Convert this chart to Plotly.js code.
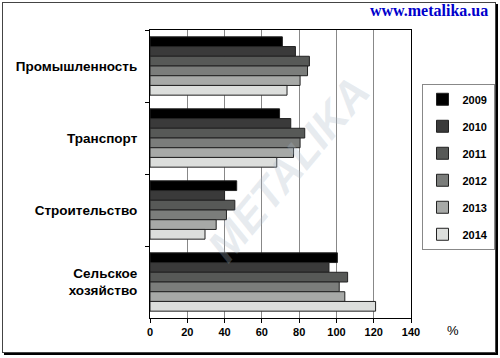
<!DOCTYPE html>
<html>
<head>
<meta charset="utf-8">
<script src="https://cdn.plot.ly/plotly-3.0.1.min.js"></script>
<style>
html,body{margin:0;padding:0;background:#fff;}
#wrap{position:relative;width:500px;height:358px;overflow:hidden;}
#frame{position:absolute;left:2px;top:2px;width:492px;height:349px;border:1px solid #444;box-shadow:2px 2px 0 #000;}
#chart{position:absolute;left:0;top:0;width:500px;height:358px;}
</style>
</head>
<body>
<div id="wrap"><div id="frame"></div><div id="chart"></div></div>
<script>
const categories = ["Промышленность", "Транспорт", "Строительство", "Сельское<br>хозяйство"];
const years = ["2009", "2010", "2011", "2012", "2013", "2014"];
const v2009 = [71, 69.5, 46.5, 100.5];
const v2010 = [78, 75.5, 40, 96];
const v2011 = [85.5, 83, 45.5, 106];
const v2012 = [84.5, 80.5, 41, 101.5];
const v2013 = [80.5, 77, 35.5, 104.5];
const v2014 = [73.5, 68, 29.5, 121];
const xTicks = [0, 20, 40, 60, 80, 100, 120, 140];

const series = [v2009, v2010, v2011, v2012, v2013, v2014];
const colors = ["#000000", "#3a3a3a", "#575957", "#7b7d7b", "#a7a9a7", "#dcdedc"];

const traces = series.map((vals, i) => ({
  type: "bar",
  orientation: "h",
  name: years[i],
  y: categories,
  x: vals,
  legendgroup: years[i],
  marker: {color: colors[i], line: {color: "#222", width: 1}},
  hoverinfo: "x+name"
}));

const layout = {
  width: 500, height: 358,
  margin: {l: 150, r: 89, t: 30, b: 40, pad: 0, autoexpand: false},
  paper_bgcolor: "rgba(0,0,0,0)",
  plot_bgcolor: "#fff",
  barmode: "group",
  bargap: 0.19,
  bargroupgap: 0,
  font: {family: "Liberation Sans, Arial, sans-serif", color: "#000"},
  showlegend: true,
  legend: {
    x: 0.843, xref: "container", y: 0.766, yref: "container", xanchor: "left", yanchor: "top",
    traceorder: "grouped",
    tracegroupgap: 8,
    itemwidth: 30,
    bordercolor: "#888", borderwidth: 1, bgcolor: "#fff",
    font: {size: 11, family: "Liberation Sans, Arial, sans-serif", weight: "bold"}
  },
  xaxis: {
    range: [0, 140],
    tickvals: xTicks,
    ticktext: xTicks.map(String),
    showgrid: true, gridcolor: "#888", gridwidth: 1,
    zeroline: false,
    showline: true, linecolor: "#000", linewidth: 1, mirror: true,
    ticks: "outside", ticklen: 4, tickcolor: "#000",
    tickfont: {size: 11, weight: "bold"},
    fixedrange: true
  },
  yaxis: {
    autorange: "reversed",
    showline: true, linecolor: "#000", linewidth: 1, mirror: true,
    ticks: "outside", ticklen: 4, tickcolor: "#000",
    tickson: "boundaries",
    ticklabelstandoff: 9,
    tickfont: {size: 13.5, weight: "bold"},
    showgrid: false,
    fixedrange: true
  },
  annotations: [
    {text: "www.metalika.ua", xref: "paper", yref: "paper", x: 1.303, y: 1.03, xanchor: "right", yanchor: "bottom",
     showarrow: false, font: {family: "Liberation Serif, Times New Roman, serif", size: 16, color: "#0000cc", weight: "bold"}},
    {text: "%", xref: "paper", yref: "paper", x: 1.16, y: -0.01, xanchor: "center", yanchor: "top",
     showarrow: false, font: {size: 13, color: "#000"}},
    {text: "METALIKA", xref: "paper", yref: "paper", x: 0.53, y: 0.52, showarrow: false, textangle: -50,
     font: {size: 44, color: "rgba(170,185,200,0.28)", weight: "bold", style: "italic"}}
  ]
};

Plotly.newPlot("chart", traces, layout, {displayModeBar: false, staticPlot: true});
</script>
</body>
</html>
